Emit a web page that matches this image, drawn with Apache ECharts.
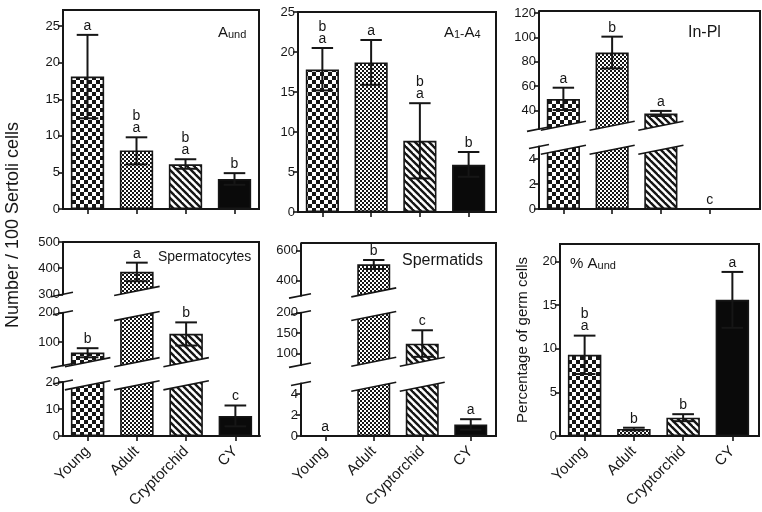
<!DOCTYPE html>
<html>
<head>
<meta charset="utf-8">
<script src="https://cdn.jsdelivr.net/npm/echarts@6/dist/echarts.min.js"></script>
<style>
  html, body { margin: 0; padding: 0; background: #fff; }
  #main { width: 762px; height: 512px; }
</style>
</head>
<body>
<div id="main"></div>
<script>
var groups = ['Young', 'Adult', 'Cryptorchid', 'CY'];

// A und
var aundMean = [18.1, 8.0, 6.1, 4.1];
var aundLo = [12.4, 6.1, 5.5, 3.3];
var aundHi = [23.8, 9.8, 6.8, 4.9];
var aundLetters = ['a', 'b\na', 'b\na', 'b'];
var aundTicks = [0, 5, 10, 15, 20, 25];

// A1-A4
var a14Mean = [17.8, 18.7, 8.9, 5.9];
var a14Lo = [15.2, 15.9, 4.2, 4.4];
var a14Hi = [20.5, 21.5, 13.6, 7.5];
var a14Letters = ['b\na', 'a', 'b\na', 'b'];
var a14Ticks = [0, 5, 10, 15, 20, 25];

// In-Pl
var inplMean = [49.5, 87.6, 37.6, 0];
var inplLo = [40.5, 74.6, 35.6, 0];
var inplHi = [58.8, 100.6, 39.8, 0];
var inplLetters = ['a', 'b', 'a', 'c'];
var inplTicksLow = [0, 2, 4];
var inplTicksHigh = [40, 60, 80, 100, 120];

// Spermatocytes
var cyteMean = [64, 386, 128, 7.4];
var cyteLo = [48, 350, 88, 3.6];
var cyteHi = [79, 421, 167, 11.3];
var cyteLetters = ['b', 'a', 'b', 'c'];
var cyteTicksLow = [0, 10, 20];
var cyteTicksMid = [100, 200];
var cyteTicksHigh = [300, 400, 500];

// Spermatids
var tidMean = [0, 509, 124, 1.1];
var tidLo = [0, 478, 92, 0.6];
var tidHi = [0, 538, 157, 1.6];
var tidLetters = ['a', 'b', 'c', 'a'];
var tidTicksLow = [0, 2, 4];
var tidTicksMid = [100, 150, 200];
var tidTicksHigh = [400, 600];

// % A und
var pctMean = [9.3, 0.8, 2.1, 15.6];
var pctLo = [7.1, 0.65, 1.7, 12.4];
var pctHi = [11.5, 0.95, 2.5, 18.8];
var pctLetters = ['b\na', 'b', 'b', 'a'];
var pctTicks = [0, 5, 10, 15, 20];

var ink = '#161616';
var fontFamily = '"Liberation Sans", Arial, sans-serif';
var SLOPE = 0.2;
var BAR = 0.68;

function makeTile(size, draw) {
  var c = document.createElement('canvas');
  c.width = size;
  c.height = size;
  var ctx = c.getContext('2d');
  ctx.fillStyle = '#fff';
  ctx.fillRect(0, 0, size, size);
  ctx.fillStyle = ink;
  ctx.strokeStyle = ink;
  draw(ctx, size);
  return { image: c, repeat: 'repeat' };
}

// checker, fine checker, diagonal stripes, solid
var fills = [
  makeTile(8, function (ctx) { ctx.fillRect(0, 0, 4, 4); ctx.fillRect(4, 4, 4, 4); }),
  makeTile(4, function (ctx) { ctx.fillRect(0, 0, 2, 2); ctx.fillRect(2, 2, 2, 2); }),
  makeTile(7, function (ctx, n) {
    ctx.lineWidth = 2.4;
    for (var k = -1; k <= 1; k++) {
      ctx.beginPath();
      ctx.moveTo(k * n - 1, -1);
      ctx.lineTo(k * n + n + 1, n + 1);
      ctx.stroke();
    }
  }),
  '#0a0a0a'
];

var panels = [
  { mean: aundMean, lo: aundLo, hi: aundHi, letters: aundLetters, left: 63, width: 196,
    frame: [63, 10, 259, 209], xLabels: false,
    segs: [{ min: 0, max: 27.2, top: 10, bottom: 209, ticks: aundTicks }] },
  { mean: a14Mean, lo: a14Lo, hi: a14Hi, letters: a14Letters, left: 298, width: 195,
    frame: [298, 12, 496, 212], xLabels: false,
    segs: [{ min: 0, max: 25, top: 12, bottom: 212, ticks: a14Ticks }] },
  { mean: inplMean, lo: inplLo, hi: inplHi, letters: inplLetters, left: 539, width: 195,
    frame: [539, 11, 760, 209], xLabels: false,
    segs: [{ min: 0, max: 5, top: 146.5, bottom: 209, ticks: inplTicksLow },
           { min: 25, max: 121.6, top: 11, bottom: 129, ticks: inplTicksHigh }] },
  { mean: cyteMean, lo: cyteLo, hi: cyteHi, letters: cyteLetters, left: 63, width: 197,
    frame: [63, 242, 259, 436], xLabels: true,
    segs: [{ min: 0, max: 20, top: 382, bottom: 436, ticks: cyteTicksLow },
           { min: 20, max: 200, top: 312.7, bottom: 365.5, ticks: cyteTicksMid },
           { min: 300, max: 500, top: 242, bottom: 294.3, ticks: cyteTicksHigh }] },
  { mean: tidMean, lo: tidLo, hi: tidHi, letters: tidLetters, left: 301, width: 194,
    frame: [301, 243, 496, 436], xLabels: true,
    segs: [{ min: 0, max: 5, top: 383.5, bottom: 436, ticks: tidTicksLow },
           { min: 72, max: 200, top: 312.7, bottom: 365, ticks: tidTicksMid },
           { min: 300, max: 650, top: 243.2, bottom: 295.7, ticks: tidTicksHigh }] },
  { mean: pctMean, lo: pctLo, hi: pctHi, letters: pctLetters, left: 560, width: 197,
    frame: [560, 244, 759, 436], xLabels: true, yName: 'Percentage of germ cells',
    segs: [{ min: 0, max: 22, top: 244, bottom: 436, ticks: pctTicks }] }
];

function homeSeg(p, v) {
  for (var k = p.segs.length - 1; k >= 0; k--) {
    if (v >= p.segs[k].min) return k;
  }
  return 0;
}

var grids = [], xAxes = [], yAxes = [], series = [], graphics = [];

panels.forEach(function (p) {
  var nSeg = p.segs.length;
  p.segs.forEach(function (s, si) {
    var idx = grids.length;
    var isBottom = si === 0;
    var isTop = si === nSeg - 1;
    grids.push({ left: p.left, top: s.top, width: p.width, height: s.bottom - s.top });
    xAxes.push({
      type: 'category', gridIndex: idx, data: groups,
      axisLine: { show: isBottom, lineStyle: { color: ink, width: 2 } },
      axisTick: { show: isBottom, alignWithLabel: true, length: 5, lineStyle: { color: ink, width: 1.6 } },
      axisLabel: { show: isBottom && p.xLabels, rotate: 45, fontSize: 15, color: ink, margin: 13, fontFamily: fontFamily },
      splitLine: { show: false }
    });
    yAxes.push({
      type: 'value', gridIndex: idx, min: s.min, max: s.max,
      name: (isBottom && p.yName) ? p.yName : '',
      nameLocation: 'middle', nameGap: 30,
      nameTextStyle: { fontSize: 15, color: ink, fontFamily: fontFamily },
      axisLine: { show: true, lineStyle: { color: ink, width: 2 } },
      axisTick: { show: true, length: 5, customValues: s.ticks, lineStyle: { color: ink, width: 1.6 } },
      axisLabel: { customValues: s.ticks, fontSize: 13, color: ink, margin: 3, fontFamily: fontFamily },
      splitLine: { show: false }
    });

    series.push({
      type: 'bar', xAxisIndex: idx, yAxisIndex: idx, barWidth: (BAR * 100) + '%',
      silent: true, z: 2,
      itemStyle: { borderColor: ink, borderWidth: 1.6 },
      data: p.mean.map(function (v, i) { return { value: v, itemStyle: { color: fills[i] } }; })
    });

    if (nSeg > 1) {
      // slanted cuts where the axis is broken
      series.push({
        type: 'custom', xAxisIndex: idx, yAxisIndex: idx, silent: true, z: 4,
        encode: { x: 0, y: 1 },
        data: groups.map(function (g, i) { return [i, s.min]; }),
        renderItem: function (params, api) {
          var i = api.value(0);
          var cs = params.coordSys;
          var yt = cs.y, yb = cs.y + cs.height, ax = cs.x;
          var w = api.size([1, 0])[0] * BAR;
          var xc = api.coord([i, s.min])[0];
          var xl = xc - w / 2, xr = xc + w / 2;
          var v = p.mean[i];
          var ext = 6;
          var kids = [];
          var white = { fill: '#fff' };
          var ls = { stroke: ink, lineWidth: 1.6 };
          if (!isTop && v > s.max) {
            var fy = function (x) { return yt + SLOPE * (xr - x); };
            kids.push({ type: 'polygon', shape: { points: [[xl - 2, yt - 3], [xr + 2, yt - 3], [xr + 2, fy(xr + 2)], [xl - 2, fy(xl - 2)]] }, style: white });
            kids.push({ type: 'line', shape: { x1: xl - ext, y1: fy(xl - ext), x2: xr + ext, y2: fy(xr + ext) }, style: ls });
          }
          if (!isBottom && v > s.min) {
            var gy = function (x) { return yb - SLOPE * (x - xl); };
            kids.push({ type: 'polygon', shape: { points: [[xl - 2, gy(xl - 2)], [xr + 2, gy(xr + 2)], [xr + 2, yb + 3], [xl - 2, yb + 3]] }, style: white });
            kids.push({ type: 'line', shape: { x1: xl - ext, y1: gy(xl - ext), x2: xr + ext, y2: gy(xr + ext) }, style: ls });
          }
          if (params.dataIndex === 0) {
            if (!isTop) kids.push({ type: 'line', shape: { x1: ax - 10, y1: yt + 2, x2: ax + 10, y2: yt - 2 }, style: ls });
            if (!isBottom) kids.push({ type: 'line', shape: { x1: ax - 12, y1: yb + 2.4, x2: ax + 10, y2: yb - 2 }, style: ls });
          }
          return { type: 'group', children: kids };
        }
      });
    }

    var errData = [];
    p.mean.forEach(function (v, i) {
      if (homeSeg(p, v) === si) errData.push([i, v]);
    });
    if (errData.length) {
      series.push({
        type: 'custom', xAxisIndex: idx, yAxisIndex: idx, silent: true, z: 5,
        encode: { x: 0, y: 1 },
        data: errData,
        renderItem: function (params, api) {
          var i = api.value(0);
          var cap = api.size([1, 0])[0] * 0.22;
          var top = api.coord([i, p.hi[i]]);
          var bot = api.coord([i, p.lo[i]]);
          var x = top[0];
          var ls = { stroke: ink, lineWidth: 2 };
          var kids = [];
          if (p.hi[i] > p.lo[i]) {
            kids.push({ type: 'line', shape: { x1: x, y1: top[1], x2: x, y2: bot[1] }, style: ls });
            kids.push({ type: 'line', shape: { x1: x - cap, y1: top[1], x2: x + cap, y2: top[1] }, style: ls });
            kids.push({ type: 'line', shape: { x1: x - cap, y1: bot[1], x2: x + cap, y2: bot[1] }, style: ls });
          }
          kids.push({
            type: 'text', x: x, y: top[1] - 3,
            style: {
              text: p.letters[i], fill: ink, font: '14px ' + fontFamily, lineHeight: 12,
              align: 'center', verticalAlign: 'bottom'
            }
          });
          return { type: 'group', children: kids };
        }
      });
    }
  });

  var f = p.frame;
  var pts = nSeg > 1
    ? [[f[0], f[1]], [f[2], f[1]], [f[2], f[3]], [f[0], f[3]]]
    : [[f[0], f[3]], [f[0], f[1]], [f[2], f[1]], [f[2], f[3]], [f[0], f[3]]];
  graphics.push({ type: 'polyline', silent: true, z: 10, shape: { points: pts }, style: { stroke: ink, lineWidth: 2, fill: null } });
});

var rich = {
  a: { fontSize: 15, fontFamily: fontFamily, color: ink, verticalAlign: 'bottom' },
  s: { fontSize: 11, fontFamily: fontFamily, color: ink, verticalAlign: 'bottom' },
  m: { fontSize: 13, fontFamily: fontFamily, color: ink, verticalAlign: 'bottom' },
  b: { fontSize: 16, fontFamily: fontFamily, color: ink, verticalAlign: 'bottom' },
  c: { fontSize: 14, fontFamily: fontFamily, color: ink, verticalAlign: 'bottom' }
};
var titles = [
  { x: 218, y: 33, text: '{a|A}{s|und}' },
  { x: 444, y: 33, text: '{a|A}{s|1}{m|-}{a|A}{s|4}' },
  { x: 688, y: 33, text: '{b|In-Pl}' },
  { x: 158, y: 257, text: '{c|Spermatocytes}' },
  { x: 402, y: 261, text: '{b|Spermatids}' },
  { x: 570, y: 264, text: '{a|% A}{s|und}' }
];
titles.forEach(function (t) {
  graphics.push({
    type: 'text', x: t.x, y: t.y, silent: true, z: 10,
    style: { text: t.text, rich: rich, fill: ink, align: 'left', verticalAlign: 'middle' }
  });
});
graphics.push({
  type: 'text', x: 13, y: 225, rotation: Math.PI / 2, silent: true, z: 10,
  style: { text: 'Number / 100 Sertoli cells', fill: ink, font: '18px ' + fontFamily, align: 'center', verticalAlign: 'middle' }
});

var chart = echarts.init(document.getElementById('main'), null, { renderer: 'canvas' });
chart.setOption({
  animation: false,
  backgroundColor: '#ffffff',
  textStyle: { fontFamily: fontFamily },
  grid: grids,
  xAxis: xAxes,
  yAxis: yAxes,
  series: series,
  graphic: graphics
});
</script>
</body>
</html>
